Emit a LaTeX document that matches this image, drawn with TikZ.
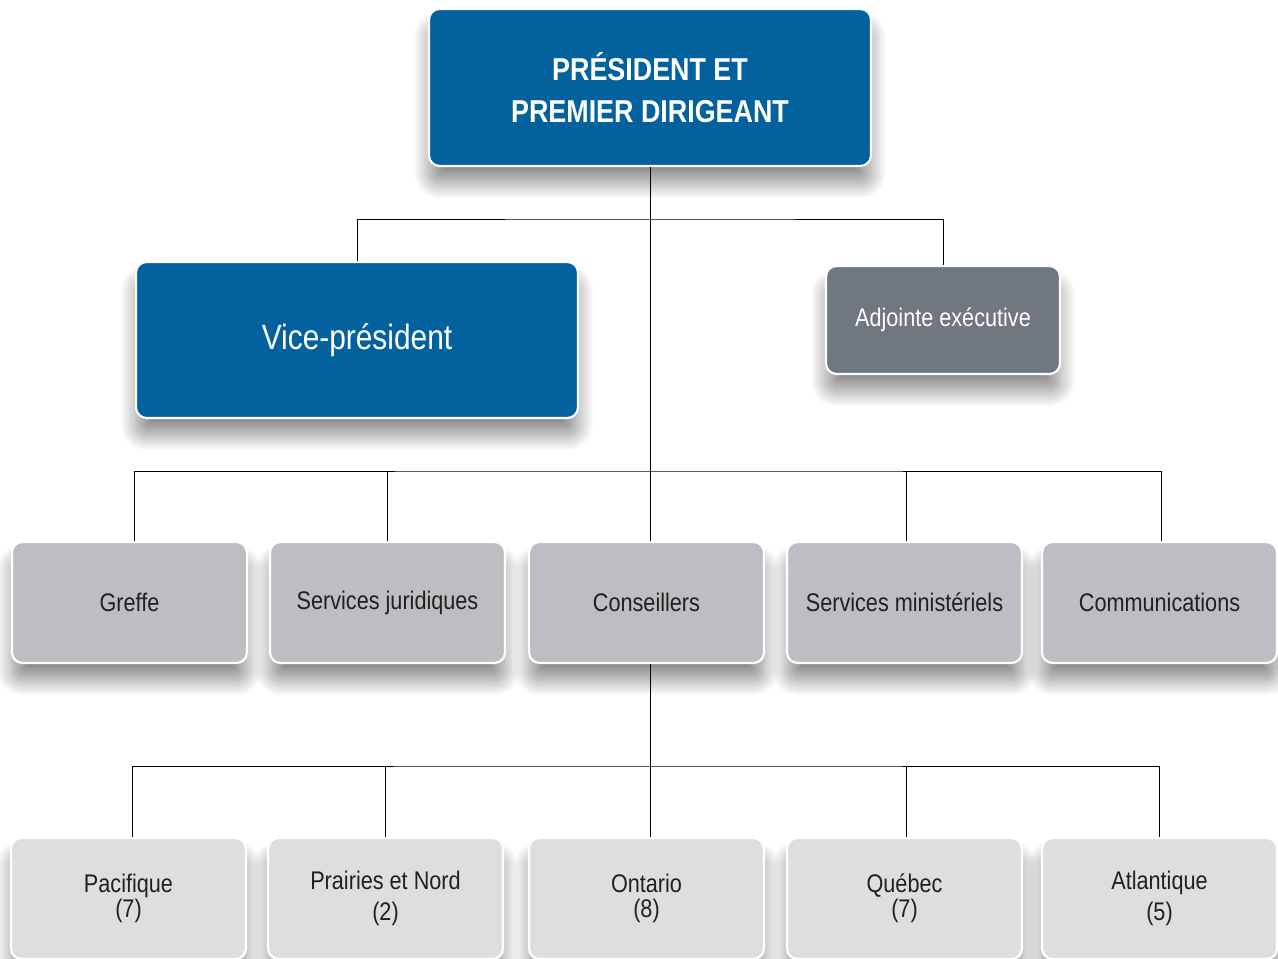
\documentclass[tikz,border=0pt]{standalone}
\usepackage{fontspec}
\setmainfont[FakeStretch=0.85]{Liberation Sans}
\usetikzlibrary{shadows.blur}

\definecolor{presblue}{HTML}{03619E}
\definecolor{adjgray}{HTML}{707780}
\definecolor{midgray}{HTML}{BDBEC1}
\definecolor{lightgray}{HTML}{DDDEE0}
\definecolor{labeltext}{HTML}{231F20}

\tikzset{
  box/.style={draw=white, line width=1.2pt, rounded corners=6pt, align=center, inner sep=0pt,
    blur shadow={shadow xshift=0pt, shadow yshift=-10pt, shadow blur radius=9pt,
      shadow blur steps=24, shadow opacity=45}},
  bluebox/.style={box, fill=presblue, text=white, minimum width=8.84cm},
  unit/.style={box, fill=midgray, text=labeltext, minimum width=4.7cm, minimum height=2.42cm,
    font=\fontsize{14.5}{14.5}\selectfont},
  region/.style={unit, fill=lightgray},
  link/.style={draw=black, line width=0.45pt},
}

\begin{document}
\begin{tikzpicture}[x=0.02cm, y=-0.02cm]
  \useasboundingbox (0,0) rectangle (1278,959);

  % top of the chart
  \node[bluebox, minimum height=3.14cm, font=\bfseries\fontsize{18}{24}\selectfont] (pdg) at (650,87.5) {PRÉSIDENT ET\\PREMIER DIRIGEANT};
  \node[bluebox, minimum height=3.12cm, font=\fontsize{20}{24}\selectfont] (vp) at (357,340) {Vice-président};
  \node[box, fill=adjgray, text=white, minimum width=4.68cm, minimum height=2.16cm,
    font=\fontsize{14.5}{14.5}\selectfont] (adj) at (943,320) {Adjointe exécutive};

  % services
  \node[unit] (greffe) at (129.5,602.5) {Greffe};
  \node[unit] (jur) at (387.5,602.5) {Services juridiques};
  \node[unit] (cons) at (646.5,602.5) {Conseillers};
  \node[unit] (min) at (904.5,602.5) {Services ministériels};
  \node[unit] (comm) at (1159.5,602.5) {Communications};

  % regions
  \node[region] (pac) at (128.5,898.5) {Pacifique\\(7)};
  \node[region] (pra) at (385.5,898.5) {Prairies et Nord\\[3pt](2)};
  \node[region] (ont) at (646.5,898.5) {Ontario\\(8)};
  \node[region] (que) at (904.5,898.5) {Québec\\(7)};
  \node[region] (atl) at (1159.5,898.5) {Atlantique\\[3pt](5)};

  \coordinate (bus1) at (650,219);
  \coordinate (bus2) at (650,471);
  \coordinate (bus3) at (650,766);

  \begin{scope}[link]
    \draw (pdg.south) -- (pdg.south |- cons.north);
    \draw (vp.north) |- (bus1) -| (adj.north);
    \draw ([xshift=2.8pt]greffe.north) |- (bus2) -| ([xshift=1.1pt]comm.north);
    \draw (jur.north) -- (jur.north |- bus2);
    \draw ([xshift=1.1pt]min.north) -- ([xshift=1.1pt]min.north |- bus2);
    \draw (pdg.south |- cons.south) -- (pdg.south |- ont.north);
    \draw ([xshift=2.3pt]pac.north) |- (bus3) -| (atl.north);
    \draw (pra.north) -- (pra.north |- bus3);
    \draw ([xshift=1.1pt]que.north) -- ([xshift=1.1pt]que.north |- bus3);
  \end{scope}
\end{tikzpicture}
\end{document}
